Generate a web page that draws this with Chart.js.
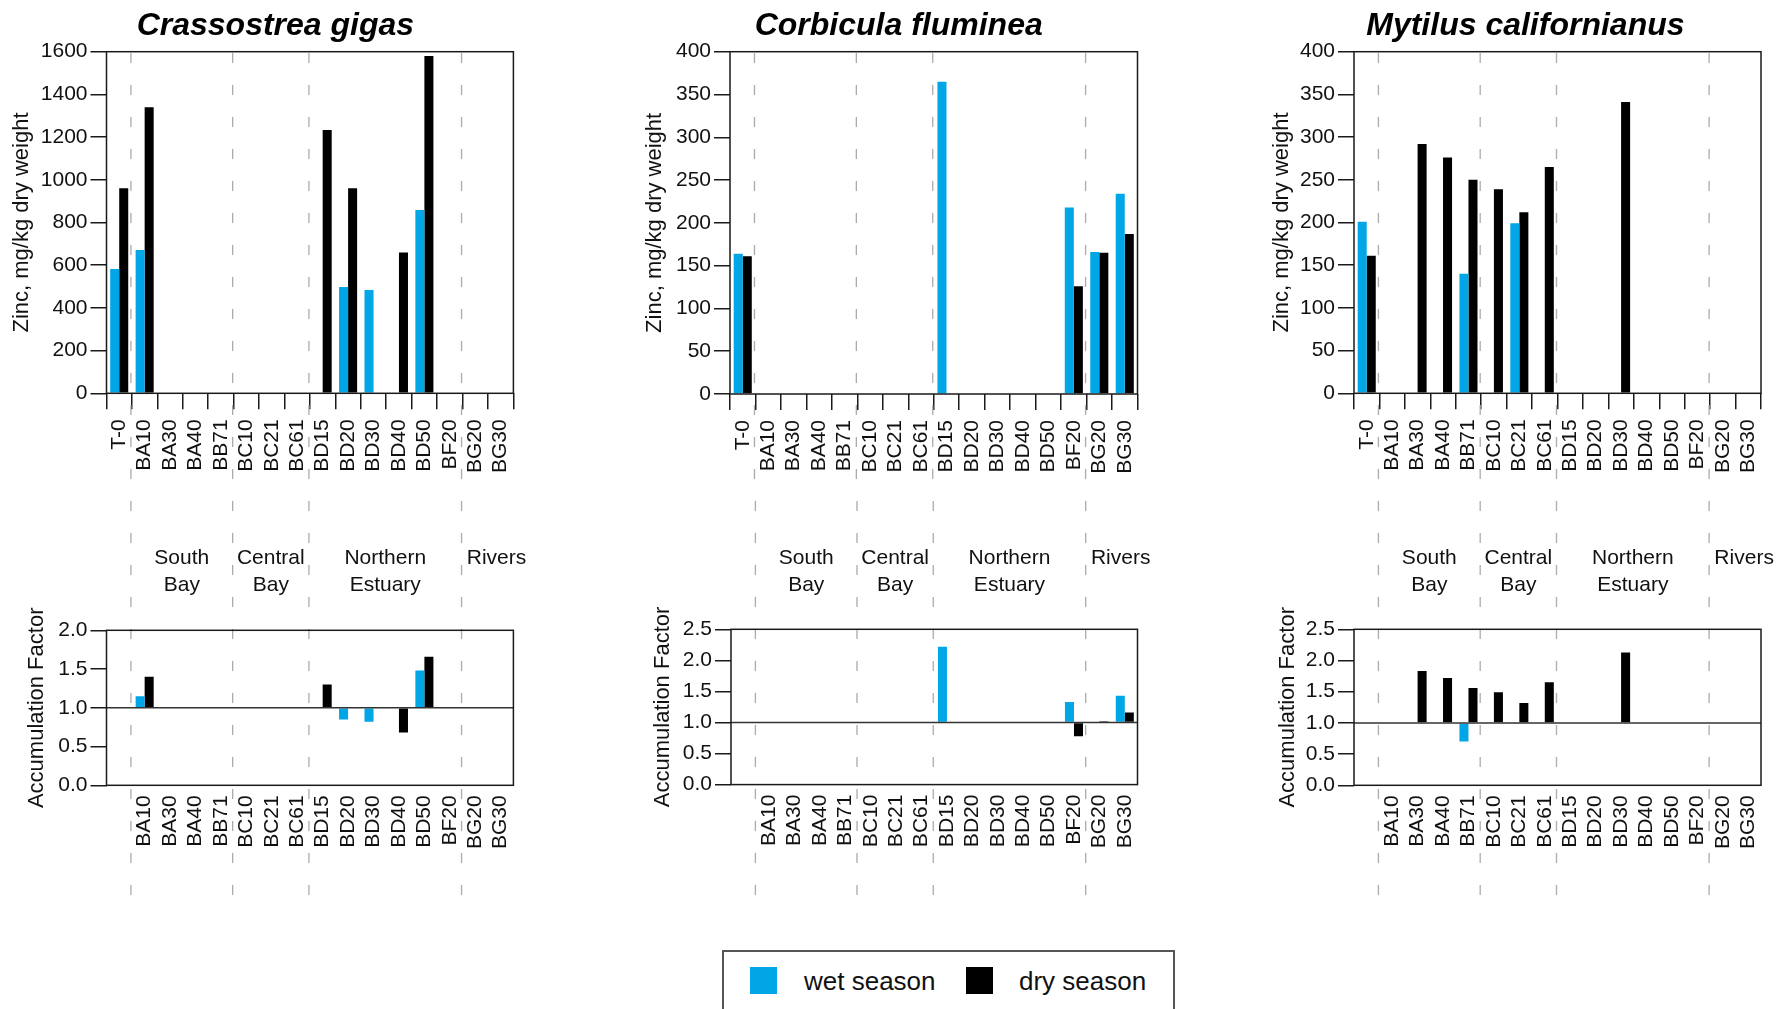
<!DOCTYPE html>
<html>
<head>
<meta charset="utf-8">
<title>Zinc in transplanted bivalves</title>
<script src="https://cdn.jsdelivr.net/npm/chart.js@4.4.1/dist/chart.umd.min.js"></script>
<style>
  html, body { margin: 0; padding: 0; background: #fff; }
  body { width: 1777px; height: 1009px; position: relative; overflow: hidden;
         font-family: 'Liberation Sans', Arial, Helvetica, sans-serif; }
  canvas { position: absolute; }
  #legend { position: absolute; left: 722px; top: 950px; width: 453px; height: 80px;
            border: 2px solid #555; box-sizing: border-box; }
  #legend .sw { position: absolute; top: 15px; width: 27px; height: 27px; }
  #legend .lt { position: absolute; top: 16px; font-size: 26px; line-height: 26px; color: #111; white-space: nowrap; }
</style>
</head>
<body>
<canvas id="zn0"></canvas><canvas id="af0"></canvas>
<canvas id="zn1"></canvas><canvas id="af1"></canvas>
<canvas id="zn2"></canvas><canvas id="af2"></canvas>
<div id="legend">
  <span class="sw" id="swWet" style="left:26px"></span><span class="lt" id="ltWet" style="left:80px"></span>
  <span class="sw" id="swDry" style="left:242px"></span><span class="lt" id="ltDry" style="left:295px"></span>
</div>
<script>
// ---- stations (x categories) ----
const stations   = ['T-0', 'BA10', 'BA30', 'BA40', 'BB71', 'BC10', 'BC21', 'BC61',
                    'BD15', 'BD20', 'BD30', 'BD40', 'BD50', 'BF20', 'BG20', 'BG30'];
const afStations = ['', 'BA10', 'BA30', 'BA40', 'BB71', 'BC10', 'BC21', 'BC61',
                    'BD15', 'BD20', 'BD30', 'BD40', 'BD50', 'BF20', 'BG20', 'BG30'];

// region groups: a boundary falls after each listed station index
const regionBreaks = [0, 4, 7, 13];
const regionNames  = [['South', 'Bay'], ['Central', 'Bay'], ['Northern', 'Estuary'], ['Rivers']];

const seasons = ['wet season', 'dry season'];
const speciesNames = ['Crassostrea gigas', 'Corbicula fluminea', 'Mytilus californianus'];

// ---- zinc, mg/kg dry weight (null = not sampled) ----
const N = null;
const gigasZnWet = [582, 671, N, N, N, N, N, N, N, 498, 484, N, 859, N, N, N];
const gigasZnDry = [960, 1340, N, N, N, N, N, N, 1233, 960, N, 660, 1580, N, N, N];
const flumZnWet  = [164, N, N, N, N, N, N, N, 365, N, N, N, N, 218, 166, 234];
const flumZnDry  = [161, N, N, N, N, N, N, N, N, N, N, N, N, 126, 165, 187];
const califZnWet = [201, N, N, N, 140, N, 199, N, N, N, N, N, N, N, N, N];
const califZnDry = [161, N, 292, 276, 250, 239, 212, 265, N, N, 341, N, N, N, N, N];

// ---- accumulation factor (station / T-0) ----
const gigasAfWet = [N, 1.15, N, N, N, N, N, N, N, 0.85, 0.82, N, 1.48, N, N, N];
const gigasAfDry = [N, 1.40, N, N, N, N, N, N, 1.30, 1.00, N, 0.68, 1.66, N, N, N];
const flumAfWet  = [N, N, N, N, N, N, N, N, 2.22, N, N, N, N, 1.33, 1.00, 1.43];
const flumAfDry  = [N, N, N, N, N, N, N, N, N, N, N, N, N, 0.78, 1.02, 1.16];
const califAfWet = [N, N, N, N, 0.70, N, 0.99, N, N, N, N, N, N, N, N, N];
const califAfDry = [N, N, 1.83, 1.72, 1.56, 1.49, 1.32, 1.65, N, N, 2.13, N, N, N, N, N];

// ---- axis ranges ----
const znMax  = [1600, 400, 400];
const znStep = [200, 50, 50];
const afMax  = [2.0, 2.5, 2.5];
const afStep = 0.5;

const WET = '#00A6E6', DRY = '#000000';
const INK = '#1a1a1a';

// page geometry of each column
const layout = [
  { left: 0,    width: 560, titleX: 275.4,  znLeft: 106.5, afLeft: 106.5, right: 513.4,
    znBottom: 393.3, afTop: 630.3, afBottom: 785.3, znTitleX: 21.5, afTitleX: 37.4 },
  { left: 600,  width: 580, titleX: 898.7,  znLeft: 730,   afLeft: 731,   right: 1137.5,
    znBottom: 394.0, afTop: 629.3, afBottom: 784.6, znTitleX: 655,  afTitleX: 663 },
  { left: 1230, width: 570, titleX: 1525.4, znLeft: 1354,  afLeft: 1354,  right: 1761,
    znBottom: 393.3, afTop: 629.3, afBottom: 785.3, znTitleX: 1282, afTitleX: 1287.5 }
];
const ZN_TOP = 51.7;          // top of the upper plots
const ZN_CANVAS_H = 480;      // upper canvas spans 0..480
const AF_CANVAS_TOP = 480;    // lower canvas spans 480..900
const AF_CANVAS_H = 420;
const AXIS_TITLE_SIZE = 22;

Chart.defaults.font.family = "'Liberation Sans', Arial, Helvetica, sans-serif";
Chart.defaults.color = '#111';

// dashed region guides, plot frame, unity line, species title, region names
const panelDecor = {
  id: 'panelDecor',
  beforeDatasetsDraw(chart, args, o) {
    const { ctx, chartArea: a } = chart;
    const x = chart.scales.x;
    const y0 = o.guideFromArea ? a.top : 0;
    const y1 = chart.height - o.guideEndGap;
    ctx.save();
    ctx.strokeStyle = '#ababab';
    ctx.lineWidth = 1.3;
    ctx.setLineDash([10, 22]);
    ctx.lineDashOffset = (((o.canvasTop + y0 - 53) % 32) + 32) % 32;
    regionBreaks.forEach(i => {
      const gx = (x.getPixelForValue(i) + x.getPixelForValue(i + 1)) / 2 - 1;
      ctx.beginPath();
      ctx.moveTo(gx, y0);
      ctx.lineTo(gx, y1);
      ctx.stroke();
    });
    ctx.restore();
  },
  afterDatasetsDraw(chart, args, o) {
    const { ctx, chartArea: a } = chart;
    ctx.save();
    ctx.strokeStyle = INK;
    ctx.lineWidth = 1.5;
    if (o.unity) {
      const yy = chart.scales.y.getPixelForValue(1);
      ctx.strokeStyle = '#333';
      ctx.beginPath();
      ctx.moveTo(a.left, yy);
      ctx.lineTo(a.right, yy);
      ctx.stroke();
      ctx.strokeStyle = INK;
    }
    ctx.strokeRect(a.left, a.top, a.right - a.left, a.bottom - a.top);
    ctx.restore();
  },
  afterDraw(chart, args, o) {
    const { ctx } = chart;
    ctx.save();
    ctx.fillStyle = '#000';
    if (o.title) {
      ctx.font = "italic bold 32px 'Liberation Sans', Arial, sans-serif";
      ctx.textAlign = 'center';
      ctx.textBaseline = 'alphabetic';
      ctx.fillText(o.title, o.titleX, 35);
    }
    if (o.regions) {
      const x = chart.scales.x;
      const bx = regionBreaks.map(i => (x.getPixelForValue(i) + x.getPixelForValue(i + 1)) / 2 - 1);
      ctx.font = "21px 'Liberation Sans', Arial, sans-serif";
      ctx.fillStyle = '#111';
      ctx.textAlign = 'center';
      ctx.textBaseline = 'middle';
      regionNames.forEach((lines, r) => {
        const cx = r < bx.length - 1 ? (bx[r] + bx[r + 1]) / 2 : bx[r] + 35;
        lines.forEach((t, k) => ctx.fillText(t, cx, 558 - AF_CANVAS_TOP + k * 27.5));
      });
    }
    ctx.restore();
  }
};

function sizeCanvas(id, left, top, w, h) {
  const c = document.getElementById(id);
  c.width = w; c.height = h;
  c.style.left = left + 'px'; c.style.top = top + 'px';
  c.style.width = w + 'px'; c.style.height = h + 'px';
  return c;
}

function barDatasets(wet, dry, base) {
  const common = { categoryPercentage: 0.71, barPercentage: 1.0, borderWidth: 0 };
  if (base !== undefined) common.base = base;
  return [
    Object.assign({ label: seasons[0], data: wet, backgroundColor: WET }, common),
    Object.assign({ label: seasons[1], data: dry, backgroundColor: DRY }, common)
  ];
}

function xScale(labels, withTicks, height) {
  return {
    type: 'category',
    labels: labels,
    offset: true,
    grid: { display: withTicks, drawOnChartArea: false, drawTicks: withTicks, tickLength: 16,
            color: INK, lineWidth: 1.5, offset: true },
    border: { display: false },
    ticks: { autoSkip: false, minRotation: 90, maxRotation: 90, padding: 10,
             color: '#111', font: { size: 21 } },
    afterFit(s) { s.height = height; }
  };
}

function yScale(max, step, titleText, titlePad, width, fmt) {
  return {
    min: 0, max: max,
    grid: { drawOnChartArea: false, drawTicks: true, tickLength: 16, color: INK, lineWidth: 1.5 },
    border: { display: false },
    ticks: { stepSize: step, padding: 3, color: '#111', font: { size: 21 },
             callback: fmt },
    title: { display: true, text: titleText, color: '#111', font: { size: AXIS_TITLE_SIZE },
             padding: { top: titlePad, bottom: 0 } },
    afterFit(s) { s.width = width; }
  };
}

const znSeries = [[gigasZnWet, gigasZnDry], [flumZnWet, flumZnDry], [califZnWet, califZnDry]];
const afSeries = [[gigasAfWet, gigasAfDry], [flumAfWet, flumAfDry], [califAfWet, califAfDry]];
const HALF_LINE = AXIS_TITLE_SIZE * 1.2 / 2;

layout.forEach((L, p) => {
  // upper panel: zinc concentration
  const zc = sizeCanvas('zn' + p, L.left, 0, L.width, ZN_CANVAS_H);
  new Chart(zc, {
    type: 'bar',
    data: { labels: stations, datasets: barDatasets(znSeries[p][0], znSeries[p][1]) },
    options: {
      responsive: false, animation: false, events: [],
      layout: { padding: { top: ZN_TOP, right: L.left + L.width - L.right, bottom: 0, left: 0 } },
      plugins: {
        legend: { display: false }, tooltip: { enabled: false },
        panelDecor: { guideFromArea: true, guideEndGap: 0, canvasTop: 0, unity: false,
                      title: speciesNames[p], titleX: L.titleX - L.left, regions: false }
      },
      scales: {
        x: xScale(stations, true, ZN_CANVAS_H - L.znBottom),
        y: yScale(znMax[p], znStep[p], 'Zinc, mg/kg dry weight',
                  L.znTitleX - L.left - HALF_LINE, L.znLeft - L.left, v => String(v))
      }
    },
    plugins: [panelDecor]
  });

  // lower panel: accumulation factor, bars rise or fall from 1.0
  const ac = sizeCanvas('af' + p, L.left, AF_CANVAS_TOP, L.width, AF_CANVAS_H);
  new Chart(ac, {
    type: 'bar',
    data: { labels: afStations, datasets: barDatasets(afSeries[p][0], afSeries[p][1], 1) },
    options: {
      responsive: false, animation: false, events: [],
      layout: { padding: { top: L.afTop - AF_CANVAS_TOP, right: L.left + L.width - L.right, bottom: 0, left: 0 } },
      plugins: {
        legend: { display: false }, tooltip: { enabled: false },
        panelDecor: { guideFromArea: false, guideEndGap: 5, canvasTop: AF_CANVAS_TOP, unity: true,
                      title: null, regions: true }
      },
      scales: {
        x: xScale(afStations, false, AF_CANVAS_TOP + AF_CANVAS_H - L.afBottom),
        y: yScale(afMax[p], afStep, 'Accumulation Factor',
                  L.afTitleX - L.left - HALF_LINE, L.afLeft - L.left, v => v.toFixed(1))
      }
    },
    plugins: [panelDecor]
  });
});

// legend
document.getElementById('swWet').style.background = WET;
document.getElementById('swDry').style.background = DRY;
document.getElementById('ltWet').textContent = seasons[0];
document.getElementById('ltDry').textContent = seasons[1];
</script>
</body>
</html>
